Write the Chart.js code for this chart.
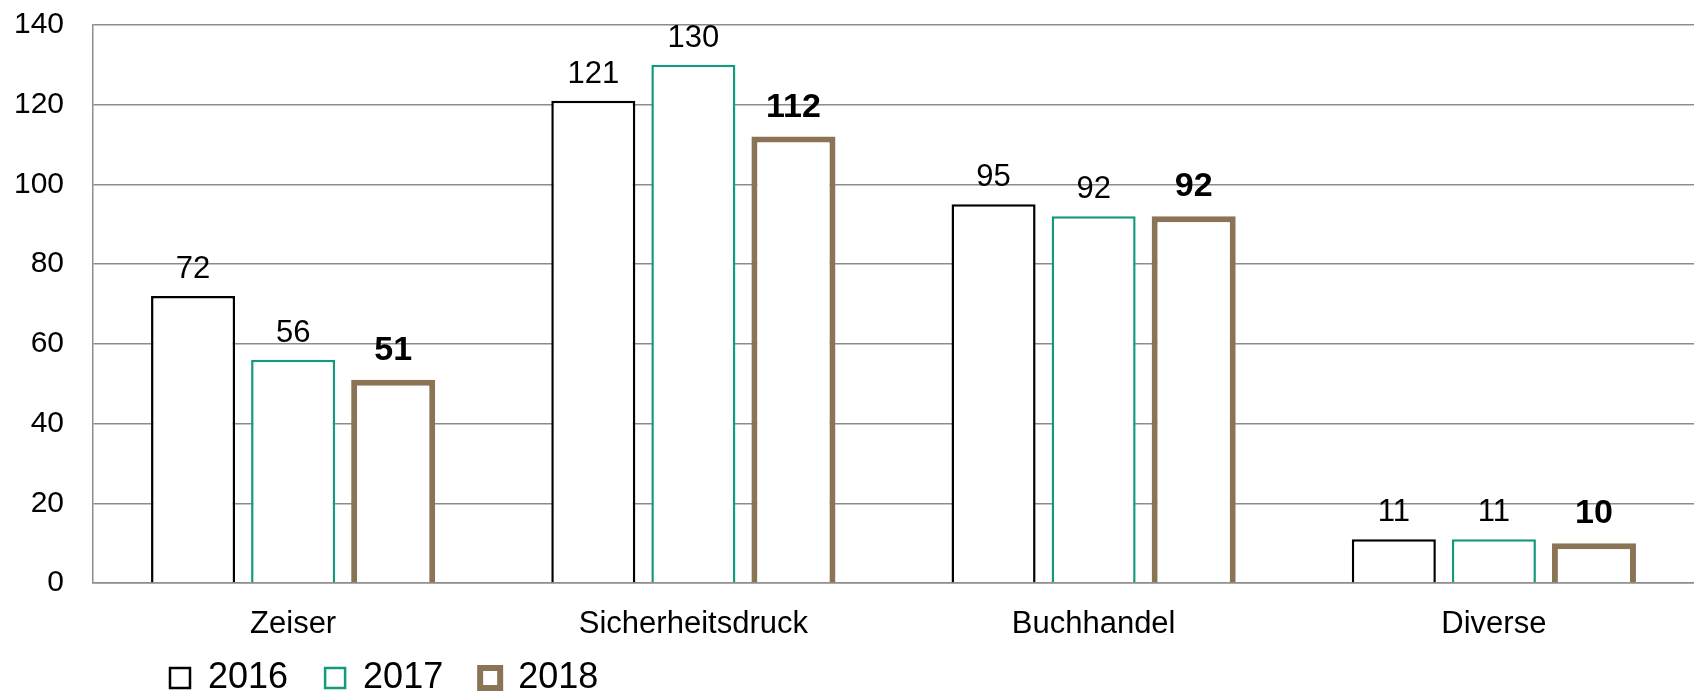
<!DOCTYPE html>
<html>
<head>
<meta charset="utf-8">
<script src="https://cdn.jsdelivr.net/npm/chart.js@4.4.1/dist/chart.umd.min.js"></script>
<style>
  html, body { margin: 0; padding: 0; background: #fff; }
  canvas { display: block; }
</style>
</head>
<body>
<canvas id="chart" width="1694" height="691"></canvas>
<script>
const categories = ['Zeiser', 'Sicherheitsdruck', 'Buchhandel', 'Diverse'];
const values2016 = [72, 121, 95, 11];
const values2017 = [56, 130, 92, 11];
const values2018 = [51, 112, 92, 10];
const yearLabels = ['2016', '2017', '2018'];

const FONT = '"Liberation Sans", Arial, sans-serif';
const GRID = '#8c8c8c';

// Werte über den Balken
const valueLabels = {
  id: 'valueLabels',
  afterDatasetsDraw(chart) {
    const ctx = chart.ctx;
    chart.data.datasets.forEach((ds, i) => {
      const meta = chart.getDatasetMeta(i);
      const bold = i === 2;
      ctx.save();
      ctx.font = (bold ? 'bold 34px ' : '31px ') + FONT;
      ctx.fillStyle = '#000';
      ctx.textAlign = 'center';
      ctx.textBaseline = 'alphabetic';
      meta.data.forEach((bar, j) => {
        ctx.fillText(String(ds.data[j]), bar.x, bar.y - (bold ? 20 : 18));
      });
      ctx.restore();
    });
  }
};

// Legende nach links unten schieben
const legendShift = {
  id: 'legendShift',
  afterLayout(chart) {
    if (chart.legend) {
      chart.legend.left = 133;
      chart.legend.top -= 17;
    }
  }
};

const ctx = document.getElementById('chart').getContext('2d');
new Chart(ctx, {
  type: 'bar',
  data: {
    labels: categories,
    datasets: [
      { label: yearLabels[0], data: values2016, backgroundColor: '#fff', borderColor: '#000', borderWidth: 2.5 },
      { label: yearLabels[1], data: values2017, backgroundColor: '#fff', borderColor: '#129a7d', borderWidth: 2.5 },
      { label: yearLabels[2], data: values2018, backgroundColor: '#fff', borderColor: '#8b7355', borderWidth: 6 }
    ]
  },
  options: {
    responsive: false,
    animation: false,
    categoryPercentage: 0.75,
    barPercentage: 0.84,
    layout: { padding: { left: 14, right: 0, top: 0, bottom: -32 } },
    plugins: {
      tooltip: { enabled: false },
      legend: {
        position: 'bottom',
        align: 'start',
        labels: {
          boxWidth: 20,
          boxHeight: 20,
          padding: 37,
          color: '#000',
          font: { size: 36, family: FONT }
        }
      }
    },
    scales: {
      x: {
        grid: { display: false },
        border: { display: true, color: GRID, width: 1.5 },
        ticks: { color: '#000', padding: 15, font: { size: 31, family: FONT } },
        afterFit(scale) { scale.height = 57; }
      },
      y: {
        min: 0,
        max: 140,
        ticks: { stepSize: 20, color: '#000', padding: 29, font: { size: 30, family: FONT } },
        grid: { color: GRID, lineWidth: 1.5, drawTicks: false },
        border: { display: true, color: GRID, width: 1.5 },
        afterFit(scale) {
          scale.width = 79;
          scale.paddingTop = 25;
          scale.paddingBottom = 0;
        }
      }
    }
  },
  plugins: [valueLabels, legendShift]
});
</script>
</body>
</html>
